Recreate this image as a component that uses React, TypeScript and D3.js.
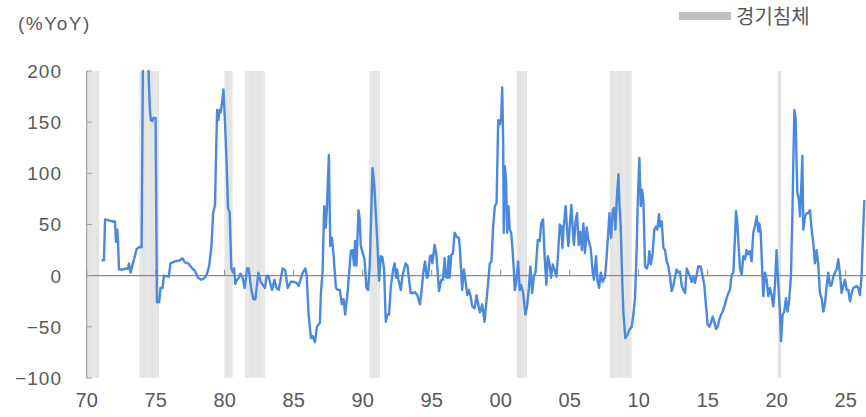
import React from "react";
import * as d3 from "d3";

const dates: number[] = [
  1971.08, 1971.25, 1971.33, 1971.6, 1971.85, 1972.05, 1972.12, 1972.22, 1972.27, 1972.34, 1972.6, 1972.85,
  1973.01, 1973.06, 1973.18, 1973.33, 1973.49, 1973.62, 1973.8, 1973.98, 1974.1, 1974.2, 1974.3, 1974.42,
  1974.5, 1974.58, 1974.65, 1974.75, 1974.83, 1974.99, 1975.09, 1975.25, 1975.35, 1975.5, 1975.59, 1975.95,
  1976.07, 1976.39, 1976.75, 1976.94, 1977.11, 1977.35, 1977.66, 1977.83, 1978.07, 1978.31, 1978.56, 1978.72,
  1978.87, 1979.04, 1979.16, 1979.3, 1979.37, 1979.45, 1979.54, 1979.64, 1979.72, 1979.83, 1979.91, 1980.0,
  1980.12, 1980.24, 1980.36, 1980.48, 1980.6, 1980.68, 1980.77, 1980.89, 1981.04, 1981.13, 1981.28, 1981.45,
  1981.62, 1981.74, 1981.91, 1982.08, 1982.22, 1982.44, 1982.6, 1982.71, 1982.92, 1983.04, 1983.16, 1983.43,
  1983.6, 1983.75, 1983.91, 1984.2, 1984.39, 1984.56, 1984.8, 1985.0, 1985.21, 1985.36, 1985.65, 1985.84,
  1985.94, 1986.08, 1986.25, 1986.37, 1986.54, 1986.68, 1986.9, 1986.97, 1987.09, 1987.21, 1987.33, 1987.41,
  1987.55, 1987.65, 1987.77, 1987.86, 1988.06, 1988.2, 1988.35, 1988.49, 1988.61, 1988.73, 1988.9, 1989.14,
  1989.26, 1989.38, 1989.45, 1989.55, 1989.69, 1989.78, 1989.86, 1990.13, 1990.27, 1990.39, 1990.51, 1990.71,
  1990.83, 1990.95, 1991.07, 1991.19, 1991.31, 1991.43, 1991.55, 1991.67, 1991.8, 1991.91, 1992.03, 1992.2,
  1992.32, 1992.42, 1992.49, 1992.59, 1992.76, 1992.88, 1993.12, 1993.24, 1993.36, 1993.48, 1993.6, 1993.77,
  1993.96, 1994.15, 1994.25, 1994.39, 1994.52, 1994.64, 1994.73, 1994.88, 1994.97, 1995.05, 1995.21, 1995.33,
  1995.53, 1995.7, 1995.82, 1995.94, 1996.01, 1996.13, 1996.23, 1996.3, 1996.42, 1996.54, 1996.66, 1996.8,
  1996.97, 1997.05, 1997.21, 1997.33, 1997.46, 1997.58, 1997.7, 1997.82, 1997.94, 1998.11, 1998.25, 1998.37,
  1998.49, 1998.66, 1998.83, 1999.02, 1999.21, 1999.33, 1999.45, 1999.58, 1999.7, 1999.82, 1999.94, 2000.03,
  2000.11, 2000.18, 2000.22, 2000.3, 2000.39, 2000.47, 2000.56, 2000.66, 2000.76, 2000.85, 2000.95, 2001.02,
  2001.14, 2001.26, 2001.38, 2001.48, 2001.63, 2001.79, 2001.91, 2002.03, 2002.15, 2002.28, 2002.4, 2002.52,
  2002.69, 2002.83, 2002.93, 2003.07, 2003.19, 2003.31, 2003.41, 2003.53, 2003.65, 2003.77, 2003.89, 2004.04,
  2004.16, 2004.28, 2004.4, 2004.47, 2004.56, 2004.71, 2004.81, 2004.9, 2005.0, 2005.12, 2005.22, 2005.31,
  2005.41, 2005.53, 2005.65, 2005.77, 2005.89, 2005.99, 2006.11, 2006.23, 2006.35, 2006.52, 2006.67, 2006.76,
  2006.91, 2007.01, 2007.13, 2007.25, 2007.39, 2007.56, 2007.68, 2007.88, 2008.0, 2008.12, 2008.21, 2008.31,
  2008.41, 2008.53, 2008.6, 2008.7, 2008.79, 2008.89, 2009.03, 2009.18, 2009.32, 2009.49, 2009.61, 2009.73,
  2009.86, 2009.93, 2010.05, 2010.15, 2010.24, 2010.34, 2010.46, 2010.58, 2010.7, 2010.77, 2010.89, 2011.01,
  2011.13, 2011.26, 2011.35, 2011.47, 2011.55, 2011.67, 2011.79, 2011.91, 2012.03, 2012.15, 2012.27, 2012.39,
  2012.51, 2012.63, 2012.75, 2012.87, 2012.99, 2013.12, 2013.24, 2013.36, 2013.48, 2013.6, 2013.72, 2013.84,
  2013.96, 2014.08, 2014.2, 2014.32, 2014.49, 2014.64, 2014.76, 2014.88, 2015.0, 2015.12, 2015.24, 2015.36,
  2015.48, 2015.6, 2015.72, 2015.84, 2015.97, 2016.09, 2016.25, 2016.37, 2016.5, 2016.61, 2016.74, 2016.86,
  2016.98, 2017.05, 2017.15, 2017.24, 2017.34, 2017.46, 2017.58, 2017.7, 2017.82, 2017.94, 2018.06, 2018.18,
  2018.3, 2018.42, 2018.55, 2018.67, 2018.74, 2018.84, 2018.93, 2019.03, 2019.15, 2019.27, 2019.39, 2019.51,
  2019.63, 2019.75, 2019.87, 2019.99, 2020.12, 2020.24, 2020.31, 2020.43, 2020.55, 2020.67, 2020.79, 2020.91,
  2021.03, 2021.13, 2021.2, 2021.28, 2021.37, 2021.49, 2021.61, 2021.69, 2021.78, 2021.86, 2021.93, 2022.05,
  2022.17, 2022.29, 2022.41, 2022.53, 2022.65, 2022.77, 2022.89, 2023.01, 2023.13, 2023.25, 2023.38, 2023.5,
  2023.62, 2023.74, 2023.86, 2023.98, 2024.1, 2024.22, 2024.34, 2024.46, 2024.58, 2024.7, 2024.83, 2024.95,
  2025.07, 2025.19, 2025.31, 2025.43, 2025.55, 2025.67, 2025.79, 2025.91, 2026.03, 2026.15, 2026.27, 2026.35,
];

const values: number[] = [
  15, 15, 55, 54, 53, 53, 33, 45, 33, 6, 6, 7,
  7, 12, 3, 11, 19, 26, 28, 28, 260, 340, 330, 240,
  190, 162, 152, 151, 154, 154, -26, -26, -12, -12, 0, -1,
  12, 14, 15, 17, 13, 12, 7, 5, -2, -4, -2, 2,
  9, 29, 61, 69, 117, 162, 152, 162, 160, 172, 182, 156,
  117, 66, 62, 7, 3, 7, -8, -4, -2, 2, -1, -12,
  7, 7, -12, -23, -23, 3, -6, -8, -12, 0, 0, -14,
  -4, -12, -14, 7, 5, -12, -6, -6, -7, -10, 3, 7,
  0, -38, -61, -59, -65, -50, -46, -17, 3, 68, 47, 68,
  118, 29, 37, 25, -12, -14, -14, -28, -23, -38, -17, 24,
  25, 10, 34, 10, 64, 56, 29, 16, -12, -14, 9, 105,
  90, 61, 30, -5, 19, 18, 6, -45, -38, -38, -12, 6,
  12, -2, 6, -4, -14, 0, 12, 10, -4, -17, -17, -16,
  -19, -28, -17, 3, 14, -2, -1, 19, 20, 12, 30, 22,
  -15, -4, -4, 17, -1, -2, 19, -2, 20, 22, 42, 38,
  37, 25, -14, 6, -6, -19, -14, -20, -30, -32, -19, -28,
  -36, -28, -45, -17, 12, 14, 48, 68, 71, 152, 148, 154,
  184, 130, 42, 107, 94, 42, 68, 45, 42, 27, 6, -14,
  -4, 14, -14, -9, -17, -38, -30, -14, 9, -17, -1, 3,
  35, 34, 51, 55, 17, -9, 19, 12, -2, 11, 6, -1,
  22, 50, 48, 27, 47, 68, 45, 29, 48, 69, 45, 30,
  51, 61, 30, 43, 25, 51, 22, 47, 35, 27, 3, -4,
  19, -4, -12, 3, -6, -1, 19, 61, 37, 64, 66, 45,
  74, 99, 71, 48, 3, -36, -61, -58, -53, -50, -38, -23,
  29, 71, 115, 68, 84, 74, 9, 7, 12, 24, 11, 22,
  45, 48, 45, 60, 48, 53, 27, 25, 14, 9, -1, -15,
  -10, -1, 6, 3, 4, -10, -14, -17, 7, 3, -1, -6,
  -1, -7, 1, 9, 9, -1, -10, -30, -48, -50, -46, -40,
  -45, -52, -50, -43, -38, -35, -28, -22, -17, -14, 1, 3,
  38, 63, 51, 29, 7, 1, 19, 16, 25, 21, 24, 14,
  42, 48, 58, 43, 51, 42, 12, -20, 3, -4, -20, -12,
  -19, -30, -10, 25, -10, -36, -64, -38, -35, -22, -35, -23,
  -1, 55, 107, 162, 154, 82, 74, 58, 87, 117, 45, 58,
  61, 61, 64, 45, 32, 12, 25, 11, -17, -22, -35, -27,
  -10, 3, -10, -9, -1, 3, 6, 16, 3, -17, -10, -4,
  -14, -14, -25, -17, -12, -11, -10, -12, -19, -1, 45, 74,
];

const recessionStart: string[] = ["1969-12", "1973-11", "1980-01", "1981-07", "1990-07", "2001-03", "2007-12", "2020-02"];
const recessionEnd: string[] = ["1970-11", "1975-03", "1980-07", "1982-11", "1991-03", "2001-11", "2009-06", "2020-04"];

const yTicks: number[] = [-100, -50, 0, 50, 100, 150, 200];
const xTicks: number[] = [1970, 1975, 1980, 1985, 1990, 1995, 2000, 2005, 2010, 2015, 2020, 2025];

const yUnitLabel = "(%YoY)";
const legendLabel = "경기침체";

const W = 866;
const H = 417;
const left = 86.7;
const right = 866;
const top = 71;
const bottom = 378;

export default function App() {
  const x = d3.scaleLinear().domain([1970, 1970 + (right - left) / 13.8]).range([left, right]);
  const y = d3.scaleLinear().domain([-100, 200]).range([bottom, top]);

  const pts = dates.map((d, i) => [d, values[i]] as [number, number]);
  const line = d3
    .line<[number, number]>()
    .x((d) => x(d[0]))
    .y((d) => y(d[1]));

  const monthW = x(1970 + 1 / 12) - x(1970);
  const months: number[] = [];
  recessionStart.forEach((s, i) => {
    const [sy, sm] = s.split("-").map(Number);
    const [ey, em] = recessionEnd[i].split("-").map(Number);
    let a = sy * 12 + (sm - 1);
    const b = ey * 12 + (em - 1);
    for (; a <= b; a++) months.push(a / 12);
  });

  const grey = "#595959";

  return (
    <svg width={W} height={H} style={{ position: "absolute", left: 0, top: 0, background: "#fff" }}>
      <defs>
        <clipPath id="plotclip">
          <rect x={left} y={top - 1} width={right - left} height={bottom - top + 2} />
        </clipPath>
      </defs>

      {/* recession bands */}
      <g clipPath="url(#plotclip)">
        {months.map((m, i) => (
          <g key={i}>
            <rect x={x(m)} y={top} width={monthW} height={bottom - top} fill="#ededed" />
            <rect x={x(m)} y={top} width={0.5} height={bottom - top} fill="#d9d9d9" />
          </g>
        ))}
      </g>

      {/* zero line */}
      <line x1={left} x2={right} y1={y(0)} y2={y(0)} stroke="#8c8c8c" strokeWidth={1.3} />
      {xTicks.map((t) => (
        <line key={t} x1={x(t)} x2={x(t)} y1={y(0)} y2={y(0) - 6} stroke="#8c8c8c" strokeWidth={1} />
      ))}

      {/* left spine */}
      <line x1={left} x2={left} y1={top} y2={bottom} stroke="#a0a0a0" strokeWidth={1.2} />
      {yTicks.map((t) => (
        <line key={t} x1={left} x2={left + 5} y1={y(t)} y2={y(t)} stroke="#a0a0a0" strokeWidth={1} />
      ))}

      {/* series */}
      <g clipPath="url(#plotclip)">
        <path d={line(pts) || ""} fill="none" stroke="#4a89dc" strokeWidth={2.4} strokeLinejoin="round" />
      </g>

      {/* y labels */}
      {yTicks.map((t) => (
        <text
          key={t}
          x={62}
          y={y(t)}
          dy="0.36em"
          textAnchor="end"
          fontFamily="'Liberation Sans', Arial, sans-serif"
          fontSize={19}
          letterSpacing={1}
          fill={grey}
        >
          {t < 0 ? "\u2212" + Math.abs(t) : String(t)}
        </text>
      ))}

      {/* x labels */}
      {xTicks.map((t) => (
        <text
          key={t}
          x={x(t)}
          y={407}
          textAnchor="middle"
          fontFamily="'Liberation Sans', Arial, sans-serif"
          fontSize={20}
          fill={grey}
        >
          {String(t % 100).padStart(2, "0")}
        </text>
      ))}

      {/* unit label */}
      <text x={18} y={30} fontFamily="'Liberation Sans', Arial, sans-serif" fontSize={19} letterSpacing={1.5} fill={grey}>
        {yUnitLabel}
      </text>

      {/* legend */}
      <rect x={679} y={12} width={52} height={8} fill="#bfbfbf" />
      <text x={736} y={24} fontFamily="'Noto Sans CJK KR', sans-serif" fontSize={20} fill={grey}>
        {legendLabel}
      </text>
    </svg>
  );
}
